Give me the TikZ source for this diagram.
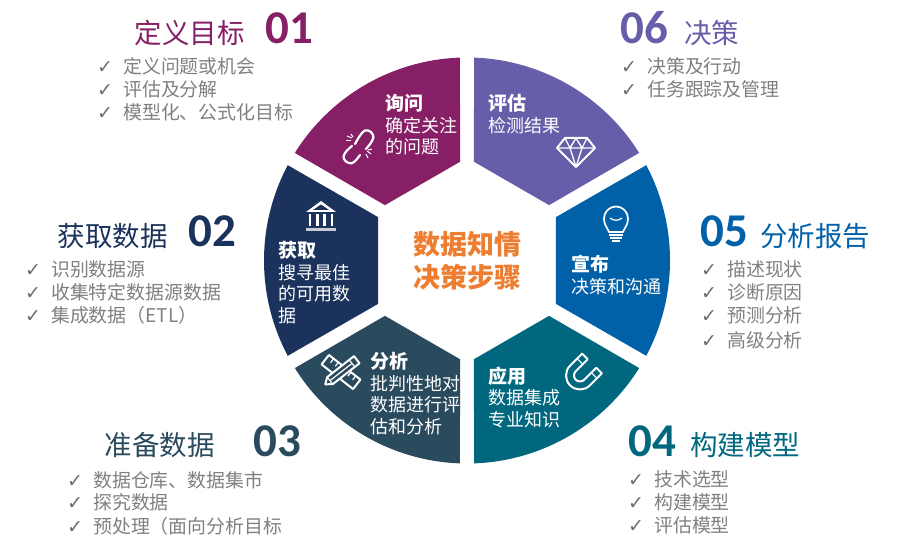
\documentclass[tikz,border=0pt]{standalone}
\usepackage{fontspec}
\setmainfont{Noto Sans CJK SC}
\newfontfamily\numfont{Carlito}
\newfontfamily\chkfont{DejaVu Sans}
\definecolor{P1}{RGB}{135,31,102}
\definecolor{P2}{RGB}{27,50,92}
\definecolor{P3}{RGB}{42,74,94}
\definecolor{P4}{RGB}{0,103,127}
\definecolor{P5}{RGB}{0,96,168}
\definecolor{P6}{RGB}{102,94,169}
\definecolor{mid}{RGB}{237,125,49}
\definecolor{txt}{RGB}{128,128,128}
\tikzstyle{num} = [anchor=base west, inner sep=0pt, font=\numfont\bfseries\fontsize{47}{47}\selectfont]
\tikzstyle{head} = [anchor=base west, inner sep=0pt, font=\fontsize{27.5}{27.5}\selectfont]
\tikzstyle{item} = [anchor=base west, inner sep=0pt, text=txt, font=\fontsize{18.9}{22}\selectfont]
\tikzstyle{seg} = [anchor=north west, inner sep=0pt, text=white, align=left, font=\fontsize{18}{21.5}\selectfont]
\tikzstyle{ico} = [draw=white, line width=1.7pt, line join=round]
\newcommand{\chk}{\makebox[26pt][l]{\chkfont\color{txt!85!black}\fontsize{19}{19}\selectfont ✓}}
\newcommand{\hd}[1]{\textbf{\fontsize{19}{21.5}\selectfont #1}}
\begin{document}
\begin{tikzpicture}[x=1pt, y=1pt]
\useasboundingbox (0,0) rectangle (911,-540);
% sectors
\foreach \ang/\col in {0/P1,60/P2,120/P3,180/P4,240/P5,300/P6} {
  \fill [\col, shift={(467,-260.5)}, rotate=\ang]
    (92:203) arc [start angle=92, end angle=148, radius=203] -- (146:99) -- (94:99) -- cycle;
}
\node (mid) [anchor=center, align=center, inner sep=0pt, text=mid, font=\bfseries\fontsize{27}{33}\selectfont] at (467,-260.5) {数据知情\\决策步骤};
% sector texts
\node (seg1) [seg] at (385,-94.5) {\hd{询问}\\确定关注\\的问题};
\node (seg2) [seg] at (278,-241.5) {\hd{获取}\\搜寻最佳\\的可用数\\据};
\node (seg3) [seg] at (370,-352.5) {\hd{分析}\\批判性地对\\数据进行评\\估和分析};
\node (seg4) [seg] at (488,-366.5) {\hd{应用}\\数据集成\\专业知识};
\node (seg5) [seg] at (571,-255) {\hd{宣布}\\决策和沟通};
\node (seg6) [seg] at (488,-94.5) {\hd{评估}\\检测结果};
% headings
\node (head1) [head, text=P1] at (134.5,-43.5) {定义目标};
\node (num1) [num, text=P1] at (265,-44) {01};
\node (head2) [head, text=P2] at (57.5,-246.5) {获取数据};
\node (num2) [num, text=P2] at (188,-247) {02};
\node (head3) [head, text=P3] at (104.5,-455.5) {准备数据};
\node (num3) [num, text=P3] at (253,-456) {03};
\node (num4) [num, text=P4] at (628,-456) {04};
\node (head4) [head, text=P4] at (690,-455.5) {构建模型};
\node (num5) [num, text=P5] at (700,-247) {05};
\node (head5) [head, text=P5] at (760,-246.5) {分析报告};
\node (num6) [num, text=P6] at (620,-44) {06};
\node (head6) [head, text=P6] at (684,-43.5) {决策};
% lists
\foreach \i/\y/\t in {1/66/定义问题或机会,2/89/评估及分解,3/112/模型化、公式化目标}
  \node (a\i) [item] at (97,-\y-8) {\chk\t};
\foreach \i/\y/\t in {1/269/识别数据源,2/292/收集特定数据源数据,3/315/集成数据（ETL）}
  \node (b\i) [item] at (25,-\y-8) {\chk\t};
\foreach \i/\y/\t in {1/479/数据仓库、数据集市,2/501/探究数据,3/525/预处理（面向分析目标}
  \node (c\i) [item] at (67,-\y-8) {\chk\t};
\foreach \i/\y/\t in {1/478/技术选型,2/501/构建模型,3/524/评估模型}
  \node (d\i) [item] at (628,-\y-8) {\chk\t};
\foreach \i/\y/\t in {1/269/描述现状,2/292/诊断原因,3/315/预测分析,4/339/高级分析}
  \node (e\i) [item] at (701,-\y-8) {\chk\t};
\foreach \i/\y/\t in {1/66/决策及行动,2/89/任务跟踪及管理}
  \node (f\i) [item] at (621,-\y-8) {\chk\t};
% broken link
\draw [ico, line width=2.2pt, line cap=round] plot [smooth, tension=0.8] coordinates {(355,-144) (362,-133) (368,-130.5) (373,-135) (372,-141) (366,-149)};
\draw [ico, line width=2.2pt, line cap=round] plot [smooth, tension=0.8] coordinates {(352,-146) (345,-153) (344,-159) (349,-163) (354,-162) (360,-155)};
\foreach \xa/\ya/\xb/\yb in {347/136/352/138,351/134/353/137,346/141/351/141,367/151/371/154,366/154/368/158,368/150/372/149}
  \draw [ico, line width=1pt] (\xa,-\ya) -- (\xb,-\yb);
% diamond
\draw [ico, line width=2pt] (565,-138) -- (587,-138) -- (595,-148) -- (576,-167) -- (557,-148) -- cycle;
\draw [ico, line width=1.3pt] (557,-148) -- (595,-148) (565,-138) -- (570,-148) -- (576,-167) -- (582,-148) -- (587,-138) (570,-148) -- (576,-138) -- (582,-148);
% bulb
\draw [ico] (609,-232) .. controls (607,-227) and (604,-225) .. (604,-218.5) arc [start angle=180, end angle=-0, radius=12] .. controls (628,-225) and (625,-227) .. (623,-232) -- cycle;
\draw [ico, line width=1.2pt] (610,-218) .. controls (613,-221) and (619,-221) .. (622,-218);
\draw [ico, line width=1.2pt] (609,-235) -- (623,-235) (610,-238) -- (622,-238) (612,-241) -- (620,-241);
% temple
\fill [white] (306,-212) -- (321,-201) -- (336,-212) -- cycle;
\fill [P2] (313,-210) -- (321,-204.5) -- (329,-210) -- cycle;
\draw [ico, line width=2.6pt] (310,-214) -- (310,-226) (317.5,-214) -- (317.5,-226) (324.5,-214) -- (324.5,-226) (332,-214) -- (332,-226);
\fill [white!75!P2] (306,-228) rectangle (336,-231);
% ruler and pencil
\begin{scope}[shift={(341,-372)}, rotate=-38]
\draw [ico, line width=2pt, fill=P3] (-20,-6) rectangle (20,6);
\foreach \tx in {-14,-8,8,14}
  \draw [ico, line width=1.2pt] (\tx,6) -- (\tx,1);
\end{scope}
\begin{scope}[shift={(341,-372)}, rotate=38]
\draw [ico, line width=2pt, fill=P3] (-20,0) -- (-14,-4.5) -- (20,-4.5) -- (20,4.5) -- (-14,4.5) -- cycle;
\draw [ico, line width=1.2pt] (-14,-4.5) -- (-14,4.5) (14,-4.5) -- (14,4.5) (-14,0) -- (14,0);
\end{scope}
% magnet
\begin{scope}[shift={(580,-375.5)}, rotate=45]
\draw [ico, line width=2pt] (17,14) -- (0,14) arc [start angle=90, end angle=270, radius=14] -- (17,-14) -- (17,-6) -- (0,-6) arc [start angle=270, end angle=90, radius=6] -- (17,6) -- cycle;
\draw [ico, line width=1.2pt] (10,14) -- (10,6) (10,-14) -- (10,-6);
\end{scope}
\end{tikzpicture}
\end{document}
